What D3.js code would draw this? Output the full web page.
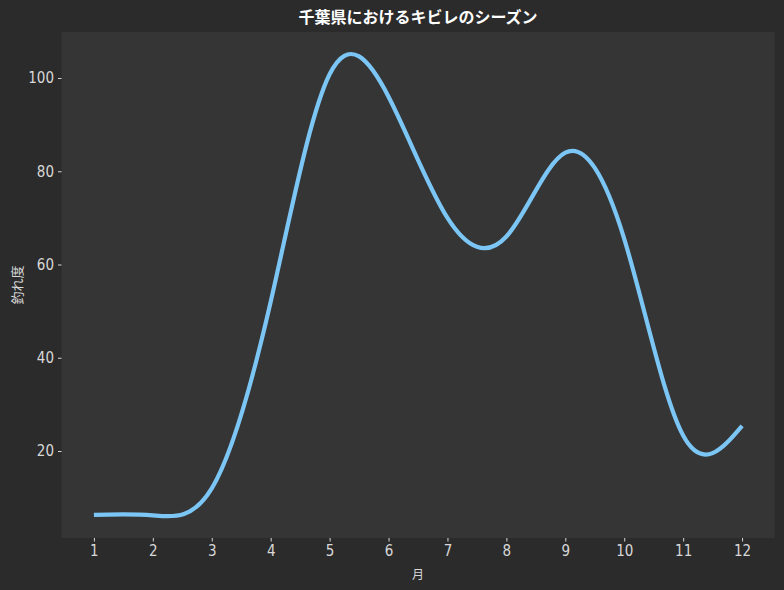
<!DOCTYPE html>
<html>
<head>
<meta charset="utf-8">
<script src="https://cdn.jsdelivr.net/npm/d3@7"></script>
<style>
  body { margin: 0; background: #2b2b2b; }
  svg { display: block; }
  .tick text { font-family: "DejaVu Sans Condensed", sans-serif; }
</style>
</head>
<body>
<div id="chart"></div>
<script>
// 月ごとの釣れ度
var months = [1, 2, 3, 4, 5, 6, 7, 8, 9, 10, 11, 12];
var catchIndex = [6.3, 6.2, 12, 52, 100.8, 96, 70, 66, 84, 65.5, 23.3, 25.4];
var yTicks = [20, 40, 60, 80, 100];

var width = 784;
var height = 590;
var plotLeft = 61.5, plotRight = 774.5, plotTop = 32, plotBottom = 538;

var svg = d3.select("#chart")
  .append("svg")
  .attr("width", width)
  .attr("height", height);

svg.append("rect")
  .attr("width", width)
  .attr("height", height)
  .attr("fill", "#2b2b2b");

svg.append("rect")
  .attr("x", plotLeft)
  .attr("y", plotTop)
  .attr("width", plotRight - plotLeft)
  .attr("height", plotBottom - plotTop)
  .attr("fill", "#353535");

var x = d3.scaleLinear()
  .domain([0.45, 12.55])
  .range([plotLeft, plotRight]);

var y = d3.scaleLinear()
  .domain([1.34, 109.87])
  .range([plotBottom, plotTop]);

var xAxis = d3.axisBottom(x).tickValues(months).tickSize(3.5).tickPadding(4).tickFormat(d3.format("d"));
var yAxis = d3.axisLeft(y).tickValues(yTicks).tickSize(3.5).tickPadding(4);

var gx = svg.append("g")
  .attr("transform", "translate(0," + plotBottom + ")")
  .call(xAxis);
var gy = svg.append("g")
  .attr("transform", "translate(" + plotLeft + ",0)")
  .call(yAxis);

[gx, gy].forEach(function(g) {
  g.select(".domain").remove();
  g.selectAll(".tick line").attr("stroke", "#d8d8d8");
  g.selectAll(".tick text").attr("fill", "#d8d8d8").attr("font-size", 15);
});

var line = d3.line()
  .x(function(d, i) { return x(months[i]); })
  .y(function(d) { return y(d); })
  .curve(d3.curveNatural);

svg.append("path")
  .datum(catchIndex)
  .attr("d", line)
  .attr("fill", "none")
  .attr("stroke", "#7cc6f6")
  .attr("stroke-width", 4.2)
  .attr("stroke-linecap", "butt");

svg.append("text")
  .attr("x", (plotLeft + plotRight) / 2)
  .attr("y", 23)
  .attr("text-anchor", "middle")
  .attr("font-family", "Noto Sans CJK JP")
  .attr("font-weight", "bold")
  .attr("font-size", 16)
  .attr("fill", "#ffffff")
  .text("千葉県におけるキビレのシーズン");

svg.append("text")
  .attr("x", (plotLeft + plotRight) / 2)
  .attr("y", 579)
  .attr("text-anchor", "middle")
  .attr("font-family", "Noto Sans CJK JP")
  .attr("font-size", 12)
  .attr("fill", "#d8d8d8")
  .text("月");

svg.append("text")
  .attr("transform", "translate(22," + ((plotTop + plotBottom) / 2) + ")rotate(-90)")
  .attr("text-anchor", "middle")
  .attr("font-family", "Noto Sans CJK JP")
  .attr("font-size", 13)
  .attr("fill", "#d8d8d8")
  .text("釣れ度");
</script>
</body>
</html>
